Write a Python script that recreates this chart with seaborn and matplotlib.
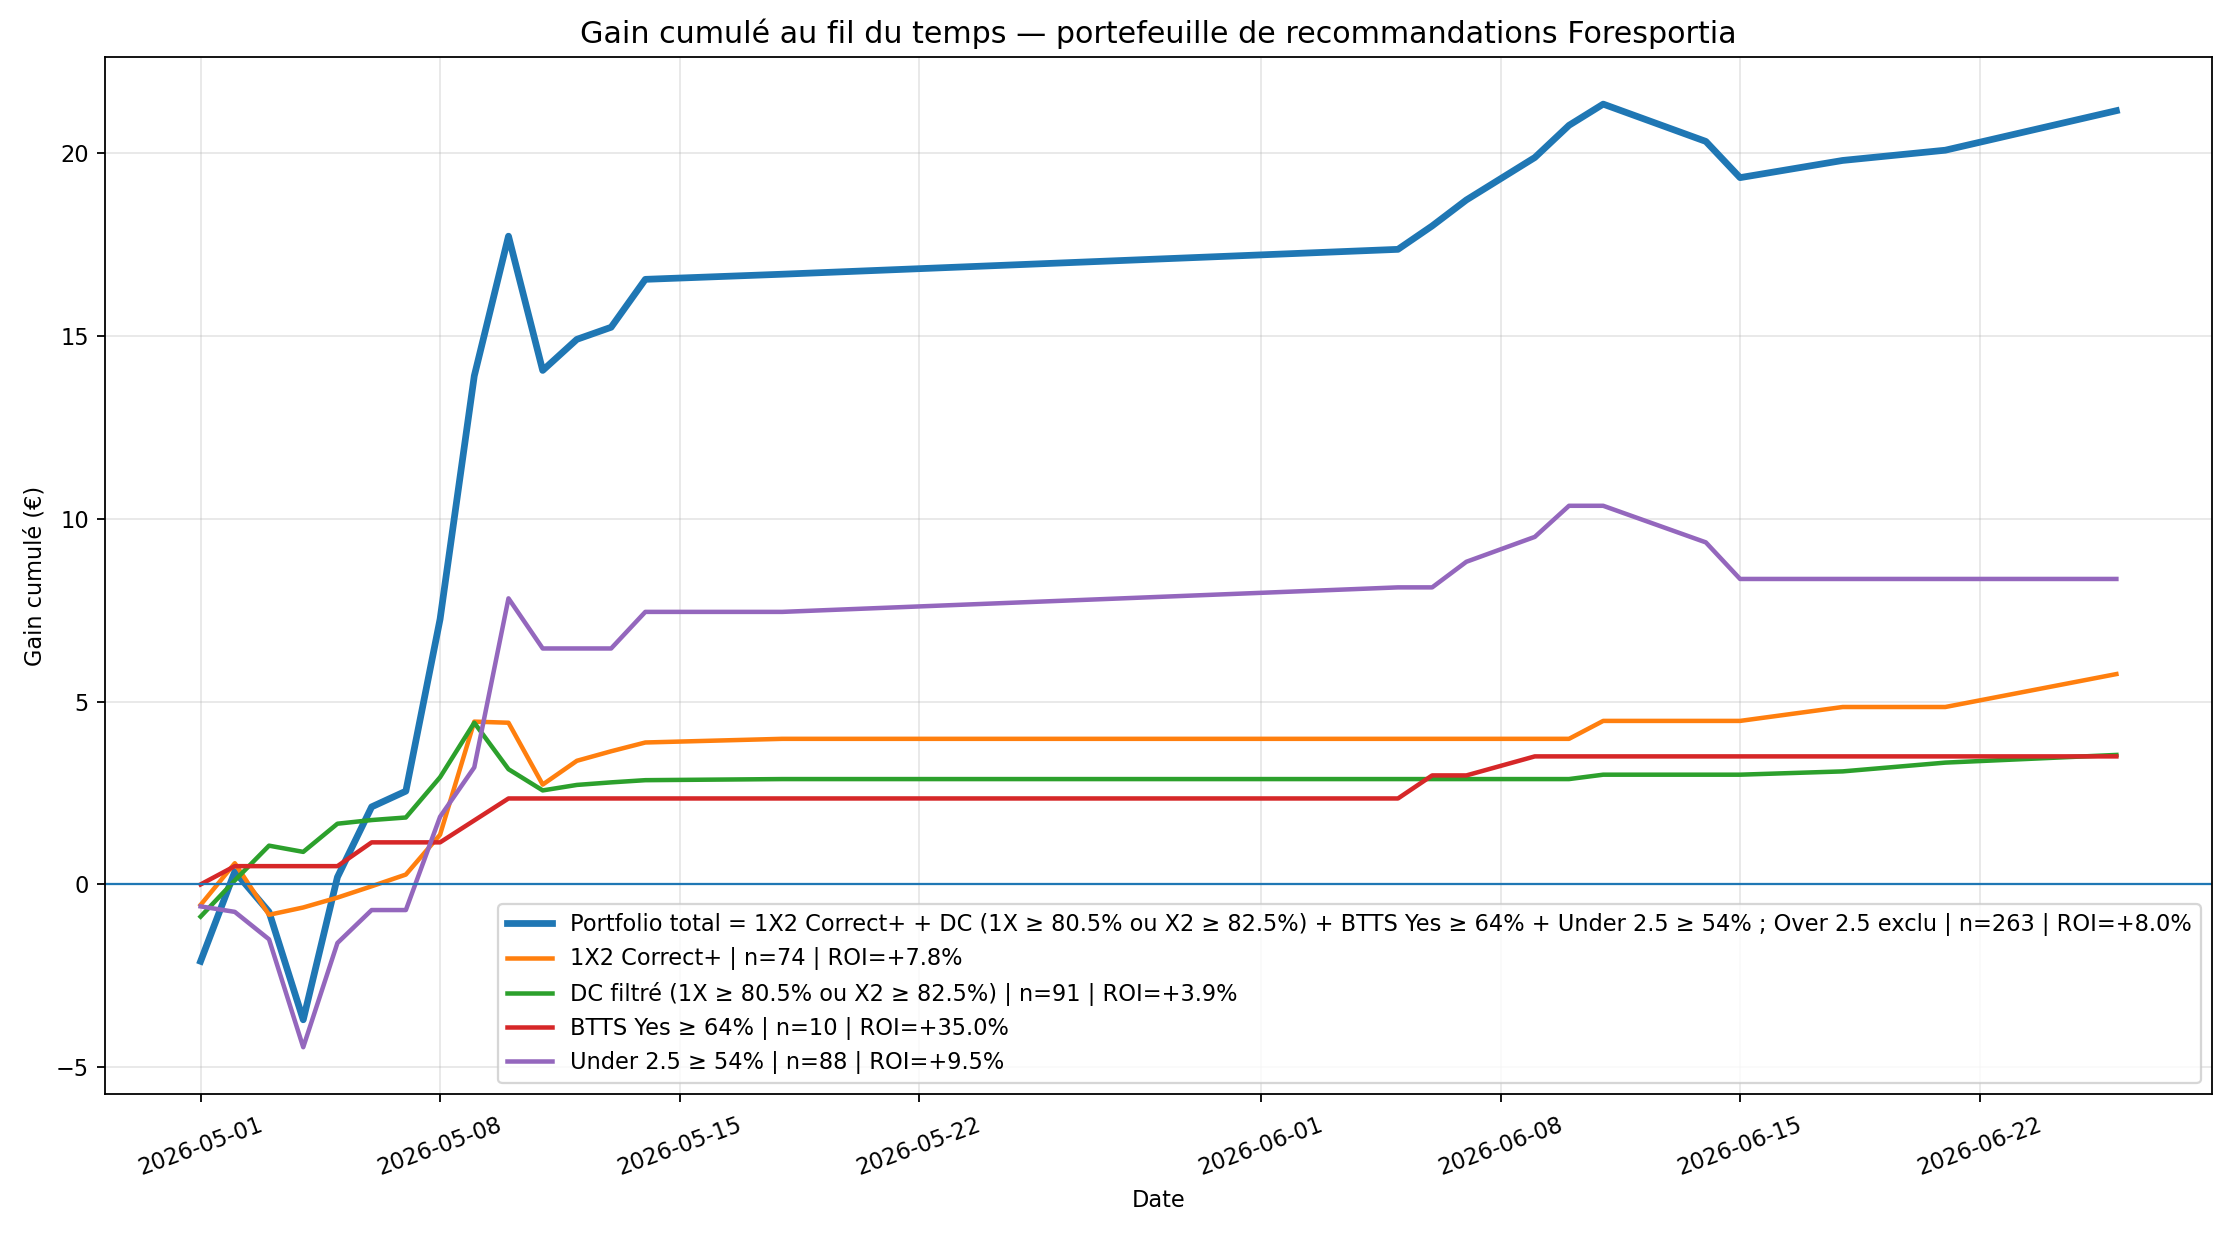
import pandas as pd
import matplotlib
matplotlib.use("Agg")
import matplotlib.pyplot as plt
import seaborn as sns

# Dates where at least one bet settled
dates = pd.to_datetime([
    "2026-05-01", "2026-05-02", "2026-05-03", "2026-05-04", "2026-05-05",
    "2026-05-06", "2026-05-07", "2026-05-08", "2026-05-09", "2026-05-10",
    "2026-05-11", "2026-05-12", "2026-05-13", "2026-05-14", "2026-05-18",
    "2026-06-05", "2026-06-06", "2026-06-07", "2026-06-09", "2026-06-10",
    "2026-06-11", "2026-06-14", "2026-06-15", "2026-06-18", "2026-06-21",
    "2026-06-26",
])

# cumulative gain (EUR) per strategy
total = [-2.1, 0.35, -0.75, -3.7, 0.2, 2.12, 2.55, 7.25, 13.9, 17.72, 14.05, 14.9, 15.23,
         16.54, 16.68, 17.36, 18.0, 18.71, 19.87, 20.75, 21.33, 20.31, 19.32, 19.79, 20.07, 21.15]
one_x_two = [-0.56, 0.58, -0.83, -0.63, -0.36, -0.05, 0.27, 1.36, 4.45, 4.42, 2.73, 3.38, 3.64,
             3.88, 3.98, 3.98, 3.98, 3.98, 3.98, 3.98, 4.47, 4.47, 4.47, 4.85, 4.85, 5.75]
dc = [-0.88, 0.11, 1.06, 0.89, 1.66, 1.76, 1.83, 2.93, 4.42, 3.15, 2.57, 2.72, 2.79,
      2.85, 2.88, 2.88, 2.88, 2.88, 2.88, 2.88, 3.0, 3.0, 3.0, 3.09, 3.33, 3.54]
btts = [0.0, 0.5, 0.5, 0.5, 0.5, 1.15, 1.15, 1.15, 1.75, 2.35, 2.35, 2.35, 2.35,
        2.35, 2.35, 2.35, 2.98, 2.98, 3.5, 3.5, 3.5, 3.5, 3.5, 3.5, 3.5, 3.5]
under = [-0.6, -0.75, -1.5, -4.45, -1.6, -0.7, -0.7, 1.85, 3.2, 7.82, 6.45, 6.45, 6.45,
         7.45, 7.45, 8.12, 8.12, 8.82, 9.5, 10.35, 10.35, 9.35, 8.35, 8.35, 8.35, 8.35]

labels = [
    "Portfolio total = 1X2 Correct+ + DC (1X ≥ 80.5% ou X2 ≥ 82.5%) + BTTS Yes ≥ 64% + Under 2.5 ≥ 54% ; Over 2.5 exclu | n=263 | ROI=+8.0%",
    "1X2 Correct+ | n=74 | ROI=+7.8%",
    "DC filtré (1X ≥ 80.5% ou X2 ≥ 82.5%) | n=91 | ROI=+3.9%",
    "BTTS Yes ≥ 64% | n=10 | ROI=+35.0%",
    "Under 2.5 ≥ 54% | n=88 | ROI=+9.5%",
]
series = [total, one_x_two, dc, btts, under]
colors = ["#1f77b4", "#ff7f0e", "#2ca02c", "#d62728", "#9467bd"]

DPI = 162
fig, ax = plt.subplots(figsize=(2230 / DPI, 1238 / DPI), dpi=DPI)
fig.subplots_adjust(left=0.047, right=0.992, top=0.954, bottom=0.116)

for i, (vals, lab) in enumerate(zip(series, labels)):
    df = pd.DataFrame({"date": dates, "gain": vals})
    sns.lineplot(data=df, x="date", y="gain", ax=ax, label=lab,
                 color=colors[i], linewidth=3 if i == 0 else 2)

ax.axhline(0, linewidth=1, color="#1f77b4")
ax.set_title("Gain cumulé au fil du temps — portefeuille de recommandations Foresportia", fontsize=13.4)
ax.set_xlabel("Date")
ax.set_ylabel("Gain cumulé (€)")
ax.grid(True, alpha=0.3)
ax.legend(loc="lower right")
ax.tick_params(axis="x", pad=5)
plt.setp(ax.get_xticklabels(), rotation=20)

plt.savefig("out.png", dpi=DPI)
